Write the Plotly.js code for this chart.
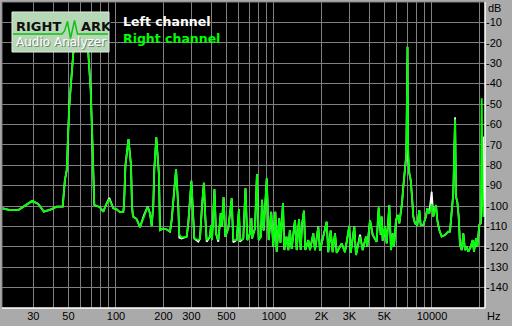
<!DOCTYPE html>
<html><head><meta charset="utf-8">
<script src="https://cdn.plot.ly/plotly-3.0.1.min.js"></script>
<style>html,body{margin:0;padding:0;background:#aaaaaa;overflow:hidden}#chart{width:512px;height:326px}</style>
</head><body><div id="chart"></div>
<script>
// ---- data ----
const freqHz = [19.0,21.3,24.1,25.9,29.5,32.2,35.0,39.2,42.1,46.0,47.5,48.8,50.6,53.7,56.6,60,62.7,66.8,69.2,71.2,
72.9,79.2,83.1,87.3,90.7,96.1,101,106,111.2,112.4,114.8,120,124.5,126.3,128.1,135.2,141.9,150.4,158.8,164.2,
168.3,172.2,174.8,180,187.2,189.9,199.3,209.4,219.7,225.2,232.9,240,248,251.6,260.5,280.3,286.9,300,305.9,313.1,
331.8,340.1,350.2,360,367.5,375.1,393.6,399.4,405.3,420,429.5,444.1,459.9,467.3,480,491.7,513.7,540,552.5,580.6,
600,609.2,639.2,660,677.6,704.8,720,725.6,758.1,780,800.2,827.5,840,860.7,900,925.7,960,989.9,1020,1040,
1080,1099,1140,1162,1200,1232,1260,1294,1358,1392,1440,1476,1504,1548,1578,1649,1690,1773,1818,1907,
1955,2033,2155,2206,2285,2352,2433,2494,2682,2814,2996,3058,3223,3304,3503,3643,3822,3896,4053,4214,
4467,4598,4734,4804,4875,5041,5167,5367,5502,5640,5748,5918,6067,6210,6338,6459,6583,6748,6877,7000,
7050,7185,7333,7473,7616,7807,8073,8310,8481,8808,9163,9338,9614,9956,10191,10600,10802,11122,11517,12085,
12680,12998,13324,13638,14000,14186,14458,14756,15039,15416,15780,16176,16583,16974,17577,18098,18444,18989,19352,19925,
20336,20634,20937,21120,21650];

const rightDb = [-101.1,-102,-102,-100.3,-97.5,-99,-102.8,-101.5,-100.3,-100.3,-87.3,-82.4,-51.3,-25,-12,-8,-12,-25,-43,-72.5,
-99.5,-100.6,-102.8,-98.7,-96.7,-101.1,-101.6,-103,-103,-100,-80,-67.2,-80,-100,-105.2,-106.4,-110.4,-105.2,-100.3,-103.6,
-109.8,-100,-82,-66.3,-85,-111.8,-111,-111.5,-112.6,-106.9,-92,-82,-100.3,-114.2,-115.4,-115,-108.5,-87.6,-100.3,-115.9,
-116.7,-116,-100.3,-88.6,-105.2,-116.7,-115,-109.3,-116.7,-91.8,-113.4,-116.7,-103.6,-110,-95.7,-115,-111,-96.2,-116.7,-116.7,
-101.6,-116.7,-116,-91.3,-116.7,-113.4,-106,-116,-111,-84.3,-116.7,-115,-97,-112,-86.4,-116.7,-102.8,-120,-102.8,-122.4,
-106,-118,-98.7,-121.6,-115,-121.6,-111.8,-121,-106.9,-121.6,-106.5,-121.6,-109.3,-102.3,-121.6,-116.7,-121.6,-113.4,-121.6,-110.1,
-121.9,-116.7,-107.7,-122.6,-112.1,-122.6,-113.4,-123,-118.3,-122.6,-109.8,-123,-110.1,-124,-115,-121.6,-115,-119.9,-106.9,-114.2,
-117.5,-100.3,-114,-105.2,-117,-110,-118.3,-99.5,-121.6,-113.4,-120,-106.9,-104.4,-108.5,-104.4,-98.7,-90.5,-81.5,-75,-22,
-70.1,-84,-87.3,-95.4,-105.2,-108.5,-109.3,-102,-109.3,-109.3,-105.2,-101.1,-103.6,-99,-105.2,-99.5,-106.9,-111.8,-115,-114.2,
-112.6,-112.6,-101.1,-93.8,-57.5,-95.4,-97.9,-105.2,-119.1,-121.6,-113.4,-121.6,-120,-122.4,-120,-116.7,-122.4,-115.8,-120,-109.3,
-108.5,-47.2,-95,-105,-105];

const leftDb = [-101.1,-102,-102,-100.3,-97.5,-99,-102.8,-101.5,-100.3,-100.3,-87.3,-82.4,-51.3,-25,-12,-8,-12,-25,-43,-72.5,
-99.5,-100.6,-102.8,-98.7,-96.0,-101.1,-101.6,-103,-103,-100,-80,-67.2,-80,-100,-105.2,-106.4,-110.4,-104.5,-100.3,-103.6,
-109.8,-100,-82,-66.3,-85,-111.8,-111,-111.5,-112.6,-106.9,-92,-82,-100.3,-115.5,-116,-115,-108.5,-87.6,-100.3,-115.9,
-117.5,-116,-100.3,-88.6,-105.2,-117.5,-115,-109.3,-116.7,-91.8,-113.4,-117.5,-103.6,-110,-95.7,-115,-111,-96.2,-117.8,-116.7,
-101.6,-117.5,-116,-91.3,-116.7,-113.4,-106,-116,-111,-84.3,-116.7,-115,-97,-112,-86.4,-116.7,-102.8,-120,-102.8,-122.4,
-106,-118,-98.7,-121.6,-115,-121.6,-111.8,-121,-106.9,-121.6,-106.5,-121.6,-109.3,-102.3,-121.6,-116.7,-121.6,-113.4,-121.6,-110.1,
-121.9,-116.7,-107.7,-122.6,-112.1,-122.6,-113.4,-123,-118.3,-122.6,-109.8,-123,-110.1,-124,-114,-121.6,-115,-119.9,-106.9,-114.2,
-117.5,-101,-114,-105.2,-117,-110,-118.3,-99.5,-121.6,-113.4,-120,-106.9,-104.4,-108.5,-104.4,-98.7,-90.5,-81.5,-75,-22,
-75,-84,-87.3,-95.4,-105.2,-108.5,-109.3,-102,-109.3,-109.3,-105.2,-101.1,-103.6,-93,-105.2,-99.5,-106.9,-111.8,-115,-114.2,
-112.6,-112.6,-101.1,-93.8,-56.5,-95.4,-97.9,-105.2,-119.1,-121.6,-113.4,-121.6,-120,-122.4,-120,-116.7,-122.4,-115.8,-120,-109.3,
-108.5,-95,-100,-66,-105];

const xTickVals = [30,40,50,60,70,80,90,100,200,300,400,500,600,700,800,900,1000,2000,3000,4000,5000,6000,7000,8000,9000,10000,20000];
const xTickText = ['30','','50','','','','','100','200','300','','500','','','','','1000','2K','3K','','5K','','','','','10000',''];
const yTickVals = [-10,-20,-30,-40,-50,-60,-70,-80,-90,-100,-110,-120,-130,-140];
const yTickText = ['-10','-20','-30','-40','-50','-60','-70','-80','-90','-100','-110','-120','-130','-140'];
const legendNames = ['Left channel','Right channel'];
const xRangeHz = [19.0, 21650];
const yRangeDb = [-150, 0];

// ---- layout helpers (pixel -> paper) ----
const L = 2, T = 2, PW = 483, PH = 306;
const px = x => (x - L) / PW;
const py = y => 1 - (y - T) / PH;

const tickFont = {family: 'Liberation Sans, Arial, sans-serif', size: 11, color: '#000000'};
const grid = '#808080';

const traces = [
  {x: freqHz, y: leftDb, type: 'scatter', mode: 'lines', name: legendNames[0],
   line: {color: '#ffffff', width: 1.8}, hoverinfo: 'skip'},
  {x: freqHz, y: rightDb, type: 'scatter', mode: 'lines', name: legendNames[1],
   line: {color: '#00ff00', width: 1.8}, hoverinfo: 'skip'}
];

const logoPts = [[13,34],[62,34],[64.5,31],[67.5,21.5],[70.5,38.5],[74.5,20.5],[77.5,34],[108,34]];
const logoPath = logoPts.map((p,i)=>(i?'L':'M')+px(p[0]).toFixed(5)+','+py(p[1]).toFixed(5)).join(' ');

const layout = {
  width: 512, height: 326,
  margin: {l: L, r: 512 - L - PW, t: T, b: 326 - T - PH, pad: 0},
  paper_bgcolor: '#aaaaaa', plot_bgcolor: '#000000',
  showlegend: false,
  xaxis: {type: 'log', range: [Math.log10(xRangeHz[0]), Math.log10(xRangeHz[1])],
    tickmode: 'array', tickvals: xTickVals, ticktext: xTickText,
    showgrid: true, gridcolor: grid, gridwidth: 1, zeroline: false, showline: false,
    ticks: '', tickfont: tickFont, fixedrange: true},
  yaxis: {range: yRangeDb, side: 'right', tickmode: 'array', tickvals: yTickVals, ticktext: yTickText,
    showgrid: true, gridcolor: grid, gridwidth: 1, zeroline: false, showline: false,
    ticks: '', tickfont: tickFont, fixedrange: true},
  shapes: [
    {type:'line', xref:'paper', yref:'paper', x0:0, x1:0, y0:0, y1:1, line:{color:'#808080', width:1}},
    {type:'line', xref:'paper', yref:'paper', x0:0, x1:1, y0:1, y1:1, line:{color:'#808080', width:1}},
    {type:'line', xref:'paper', yref:'paper', x0:1, x1:1, y0:0, y1:1, line:{color:'#ffffff', width:1.5}},
    {type:'line', xref:'paper', yref:'paper', x0:0, x1:1, y0:0, y1:0, line:{color:'#ffffff', width:1.5}},
    {type:'rect', xref:'paper', yref:'paper', x0:px(12), x1:px(109), y0:py(52), y1:py(12),
      fillcolor:'#b6d8b6', line:{color:'#e8e8e8', width:1}},
    {type:'path', xref:'paper', yref:'paper', path: logoPath, line:{color:'#12c012', width:1.5}}
  ],
  annotations: [
    {xref:'paper', yref:'paper', x:px(486), y:py(7.5), xanchor:'left', yanchor:'middle', showarrow:false,
      text:'dB', font:tickFont},
    {xref:'paper', yref:'paper', x:px(485), y:py(316), xanchor:'left', yanchor:'middle', showarrow:false,
      text:'Hz', font:tickFont},
    {xref:'paper', yref:'paper', x:px(121), y:py(22), xanchor:'left', yanchor:'middle', showarrow:false,
      text:'<b>'+legendNames[0]+'</b>', font:{family:'DejaVu Sans', size:12.5, color:'#ffffff'}},
    {xref:'paper', yref:'paper', x:px(121), y:py(38), xanchor:'left', yanchor:'middle', showarrow:false,
      text:'<b>'+legendNames[1]+'</b>', font:{family:'DejaVu Sans', size:12.5, color:'#00ff00'}},
    {xref:'paper', yref:'paper', x:px(13.5), y:py(26.5), xanchor:'left', yanchor:'middle', showarrow:false,
      text:'<b>RIGHT</b>', font:{family:'DejaVu Sans', size:13, color:'#101010'}},
    {xref:'paper', yref:'paper', x:px(78.5), y:py(26.5), xanchor:'left', yanchor:'middle', showarrow:false,
      text:'<b>ARK</b>', font:{family:'DejaVu Sans', size:13, color:'#101010'}},
    {xref:'paper', yref:'paper', x:px(14.5), y:py(43.5), xanchor:'left', yanchor:'middle', showarrow:false,
      text:'Audio Analyzer', font:{family:'DejaVu Sans', size:12, color:'#6d806d'}},
    {xref:'paper', yref:'paper', x:px(13.5), y:py(42.5), xanchor:'left', yanchor:'middle', showarrow:false,
      text:'Audio Analyzer', font:{family:'DejaVu Sans', size:12, color:'#ffffff'}}
  ]
};

Plotly.newPlot('chart', traces, layout, {staticPlot: true, displayModeBar: false});
</script>
</body></html>
